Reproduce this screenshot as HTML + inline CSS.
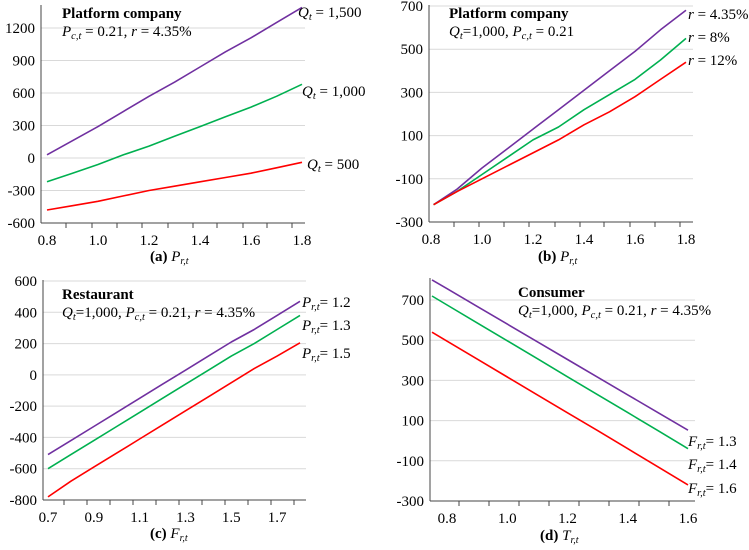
<!DOCTYPE html>
<html><head><meta charset="utf-8"><style>
body{margin:0;background:#fff;}
svg, svg text{font-family:"Liberation Serif","Times New Roman",serif;}
</style></head><body>
<svg id="c" width="749" height="545" viewBox="0 0 749 545" font-family="Liberation Serif, serif" xmlns="http://www.w3.org/2000/svg"></svg>
<script>
const xA=[0.8,0.9,1.0,1.1,1.2,1.3,1.4,1.5,1.6,1.7,1.8];
const aQ1500=[30,160,290,430,570,700,840,980,1110,1250,1390];
const aQ1000=[-220,-140,-60,30,110,200,290,380,470,570,680];
const aQ500=[-480,-440,-400,-350,-300,-260,-220,-180,-140,-90,-40];
const aTicks=[-600,-300,0,300,600,900,1200];
const aXLabels=[0.8,1.0,1.2,1.4,1.6,1.8];

const xB=[0.81,0.9,1.0,1.1,1.2,1.3,1.4,1.5,1.6,1.7,1.8];
const bR435=[-220,-150,-50,40,130,220,310,400,490,590,680];
const bR8=[-220,-160,-80,0,80,140,220,290,360,450,550];
const bR12=[-220,-160,-100,-40,20,80,150,210,280,360,440];
const bTicks=[-300,-100,100,300,500,700];
const bXLabels=[0.8,1.0,1.2,1.4,1.6,1.8];

const xC=[0.7,0.8,0.9,1.0,1.1,1.2,1.3,1.4,1.5,1.6,1.7,1.8];
const cP12=[-510,-420,-330,-240,-150,-60,30,120,210,290,380,470];
const cP13=[-600,-510,-420,-330,-240,-150,-60,30,120,200,290,380];
const cP15=[-780,-680,-590,-500,-410,-320,-230,-140,-50,40,120,205];
const cTicks=[-800,-600,-400,-200,0,200,400,600];
const cXLabels=[0.7,0.9,1.1,1.3,1.5,1.7];

const xD=[0.75,0.8,0.9,1.0,1.1,1.2,1.3,1.4,1.5,1.6];
const dF13=[800,756,668,580,492,404,316,228,140,52];
const dF14=[720,675,586,497,408,318,229,140,50,-40];
const dF16=[540,495,406,317,228,139,50,-40,-130,-220];
const dTicks=[-300,-100,100,300,500,700];
const dXLabels=[0.8,1.0,1.2,1.4,1.6];

const NS="http://www.w3.org/2000/svg";
const FF="Liberation Serif, Times New Roman, serif";
const svg=document.getElementById('c');
function el(t,a,p){const e=document.createElementNS(NS,t);for(const k in a)e.setAttribute(k,a[k]);if(t==='text')e.setAttribute('font-family',FF);(p||svg).appendChild(e);return e;}

const COL=['#7030a0','#00b050','#ff0000'];
const panels=[
 {id:'a',ax:41,right:305,top:5,bottom:223,ymin:-600,ymax:1200,yTop:28,x0:0.8,x1:1.8,px0:47,px1:302,xs:xA,series:[aQ1500,aQ1000,aQ500],ticks:aTicks,xl:aXLabels,dec:1,
  tickX:[66,92,117,142,168,193,217,243,267,292],
  labels:[['Q','t',' = 1,500',298,17],['Q','t',' = 1,000',302,96],['Q','t',' = 500',307,169]],
  title:'Platform company',sub:[['P','c,t',' = 0.21, '],['r','',' = 4.35%']],tx:62,ty:18,cap:'(a) ',capV:'P',capS:'r,t',cx:150,cy:261},
 {id:'b',ax:429,right:693,top:5,bottom:222,ymin:-300,ymax:700,yTop:6,x0:0.8,x1:1.8,px0:431,px1:686,xs:xB,series:[bR435,bR8,bR12],ticks:bTicks,xl:bXLabels,dec:1,
  tickX:[454,479,504,529,555,580,604,630,655,680],
  labels:[['r','',' = 4.35%',688,19],['r','',' = 8%',688,42],['r','',' = 12%',688,65]],
  title:'Platform company',sub:[['Q','t','=1,000, '],['P','c,t',' = 0.21']],tx:449,ty:18,cap:'(b) ',capV:'P',capS:'r,t',cx:538,cy:261},
 {id:'c',ax:43,right:306,top:280,bottom:500,ymin:-800,ymax:600,yTop:281,x0:0.7,x1:1.8,px0:48,px1:300,xs:xC,series:[cP12,cP13,cP15],ticks:cTicks,xl:cXLabels,dec:1,
  tickX:[64,87,110,133,156,179,202,225,248,271,294],
  labels:[['P','r,t','= 1.2',302,307],['P','r,t','= 1.3',302,330],['P','r,t','= 1.5',302,358]],
  title:'Restaurant',sub:[['Q','t','=1,000, '],['P','c,t',' = 0.21, '],['r','',' = 4.35%']],tx:62,ty:299,cap:'(c) ',capV:'F',capS:'r,t',cx:150,cy:538},
 {id:'d',ax:430,right:695,top:278,bottom:501,ymin:-300,ymax:700,yTop:300,x0:0.75,x1:1.6,px0:432,px1:688,xs:xD,series:[dF13,dF14,dF16],ticks:dTicks,xl:dXLabels,dec:1,
  tickX:[459,489,519,549,579,609,639,669],
  labels:[['F','r,t','= 1.3',688,446],['F','r,t','= 1.4',688,469],['F','r,t','= 1.6',688,493]],
  title:'Consumer',sub:[['Q','t','=1,000, '],['P','c,t',' = 0.21, '],['r','',' = 4.35%']],tx:518,ty:297,cap:'(d) ',capV:'T',capS:'r,t',cx:540,cy:540}
];

function richText(g,parts,x,y,size,name){
  const t=el('text',{x:x,y:y,'font-size':size,fill:'#000'},g);
  
  
  parts.forEach(p=>{
    const v=el('tspan',{'font-style':'italic'},t);v.textContent=p[0];
    if(p[1]){const s=el('tspan',{'font-style':'italic','font-size':size*0.7,dy:3},t);s.textContent=p[1];
      const r=el('tspan',{dy:-3},t);r.textContent=p[2];}
    else{const r=el('tspan',{},t);r.textContent=p[2];}
  });
  return t;
}

panels.forEach(P=>{
  const g=el('g',{});
  
  
  const yUnit=(P.bottom-P.yTop)/(P.ymax-P.ymin);
  const Y=v=>P.bottom-(v-P.ymin)*yUnit;
  const X=v=>P.px0+(v-P.x0)*(P.px1-P.px0)/(P.x1-P.x0);
  P.ticks.forEach(t=>{
    if(t!==P.ymin){const l=el('line',{x1:P.ax,x2:P.right,y1:Y(t),y2:Y(t),stroke:'#d9d9d9','stroke-width':1},g);
      }
    const tx=el('text',{x:P.ax-6,y:Y(t)+5,'text-anchor':'end','font-size':15,fill:'#000'},g);
    
    tx.textContent=t;
  });
  const ya=el('line',{x1:P.ax,x2:P.ax,y1:P.top,y2:P.bottom,stroke:'#444','stroke-width':1},g);
  
  const xa=el('line',{x1:P.ax,x2:P.right,y1:P.bottom,y2:P.bottom,stroke:'#444','stroke-width':1},g);
  
  P.tickX.forEach(x=>{const l=el('line',{x1:x,x2:x,y1:P.bottom,y2:P.bottom+5,stroke:'#444'},g);
    });
  P.xl.forEach(v=>{const t=el('text',{x:X(v),y:P.bottom+22,'text-anchor':'middle','font-size':15},g);
    
    t.textContent=v.toFixed(P.dec);});
  P.series.forEach((s,i)=>{
    const d=s.map((v,j)=>(j?'L':'M')+X(P.xs[j]).toFixed(1)+','+Y(v).toFixed(1)).join('');
    const p=el('path',{d:d,fill:'none',stroke:COL[i],'stroke-width':1.6,'stroke-linejoin':'round'},g);
    
    
  });
  P.labels.forEach(L=>richText(g,[L],L[3],L[4],15,'series-label'));
  const tt=el('text',{x:P.tx,y:P.ty,'font-size':15,'font-weight':'bold'},g);
  
  tt.textContent=P.title;
  richText(g,P.sub,P.tx,P.ty+18,15,'panel-subtitle');
  const cap=el('text',{x:P.cx,y:P.cy,'font-size':15,'font-weight':'bold'},g);
  
  const c1=el('tspan',{},cap);c1.textContent=P.cap;
  const c2=el('tspan',{'font-style':'italic','font-weight':'normal'},cap);c2.textContent=P.capV;
  const c3=el('tspan',{'font-style':'italic','font-weight':'normal','font-size':10,dy:3},cap);c3.textContent=P.capS;
});
</script>
</body></html>
